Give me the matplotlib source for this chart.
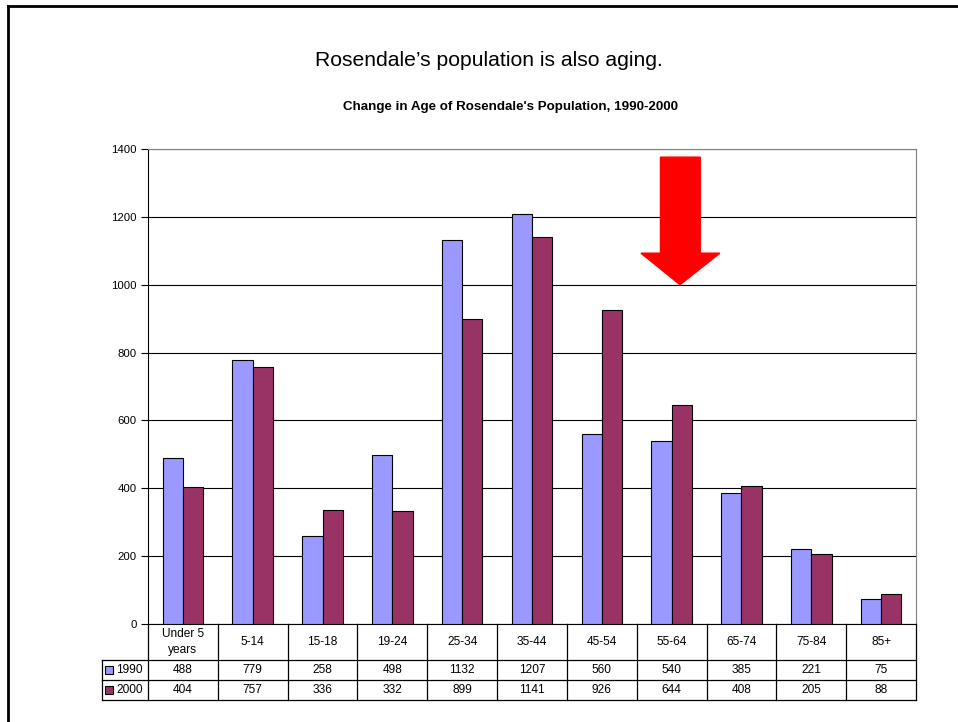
import numpy as np
import matplotlib.pyplot as plt
import matplotlib.transforms as mtransforms
from matplotlib.patches import Polygon, Rectangle

plt.rcParams['font.family'] = ['Liberation Sans', 'DejaVu Sans']

categories = ['Under 5\nyears', '5-14', '15-18', '19-24', '25-34', '35-44',
              '45-54', '55-64', '65-74', '75-84', '85+']
pop_1990 = [488, 779, 258, 498, 1132, 1207, 560, 540, 385, 221, 75]
pop_2000 = [404, 757, 336, 332, 899, 1141, 926, 644, 408, 205, 88]
series_names = ['1990', '2000']
colors = ['#9999FF', '#993366']

W, H = 958, 722
fig = plt.figure(figsize=(W / 100, H / 100), dpi=100)

def fy(py):
    return 1 - py / H

def fx(px):
    return px / W

# outer frame (only left/top visible in the reference)
fig.add_artist(plt.Line2D([fx(8), fx(8)], [fy(6), 0], color='black', lw=2))
fig.add_artist(plt.Line2D([fx(8), 1], [fy(6), fy(6)], color='black', lw=2))

fig.text(fx(489), fy(61), 'Rosendale\u2019s population is also aging.',
         ha='center', va='center', fontsize=15.2)
fig.text(fx(511), fy(107), "Change in Age of Rosendale's Population, 1990-2000",
         ha='center', va='center', fontsize=9.6, fontweight='bold')

left, right, top, bottom = 148, 916, 149, 624
ax = fig.add_axes([fx(left), fy(bottom), fx(right - left), (bottom - top) / H])

x = np.arange(len(categories))
bw = 0.29
ax.bar(x - bw / 2, pop_1990, bw, color=colors[0], edgecolor='black', linewidth=0.8, zorder=3)
ax.bar(x + bw / 2, pop_2000, bw, color=colors[1], edgecolor='black', linewidth=0.8, zorder=3)

ax.set_xlim(-0.5, len(categories) - 0.5)
ax.set_ylim(0, 1400)
ax.set_yticks(np.arange(0, 1401, 200))
ax.tick_params(axis='y', length=5, width=0.8, direction='out', labelsize=8.2, pad=3)
ax.set_xticks([])
ax.yaxis.grid(True, color='black', lw=0.8, zorder=0)
for s in ['top', 'right']:
    ax.spines[s].set_color('#808080')
ax.spines['left'].set_color('black')
ax.spines['bottom'].set_color('black')

# red arrow
ax.add_patch(Polygon([(6.84, 1376), (7.41, 1376), (7.41, 1093), (7.69, 1093),
                      (7.12, 1000), (6.56, 1093), (6.84, 1093)],
                     closed=True, color='#FF0000', zorder=4))

# data table under the axis
tr = mtransforms.blended_transform_factory(ax.transData, fig.transFigure)
rows_y = [624, 660, 680, 700]
lw = 0.9
for b in np.arange(-0.5, len(categories) + 0.5, 1):
    fig.add_artist(plt.Line2D([b, b], [fy(624), fy(700)], color='black', lw=lw, transform=tr))
tbl_left = fx(102)
x_right = fx(right)
for ry in rows_y[1:]:
    fig.add_artist(plt.Line2D([tbl_left, x_right], [fy(ry), fy(ry)], color='black', lw=lw))
fig.add_artist(plt.Line2D([tbl_left, tbl_left], [fy(660), fy(700)], color='black', lw=lw))

fs = 8.6
for i, c in enumerate(categories):
    ax.text(x[i], fy(642), c, transform=tr, ha='center', va='center', fontsize=fs, linespacing=1.45)
    ax.text(x[i], fy(670), str(pop_1990[i]), transform=tr, ha='center', va='center', fontsize=fs)
    ax.text(x[i], fy(690), str(pop_2000[i]), transform=tr, ha='center', va='center', fontsize=fs)

for j, (name, col) in enumerate(zip(series_names, colors)):
    yc = 670 + 20 * j
    fig.add_artist(Rectangle((fx(105), fy(yc + 4)), 8 / W, 8 / H, facecolor=col,
                             edgecolor='black', lw=0.8))
    fig.text(fx(116), fy(yc), name, ha='left', va='center', fontsize=fs)

fig.savefig('out.png', dpi=100)
